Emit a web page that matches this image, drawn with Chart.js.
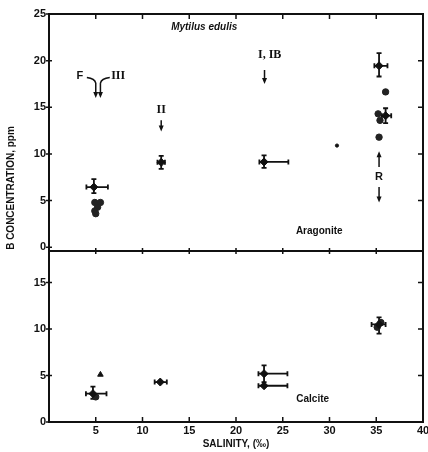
<!DOCTYPE html>
<html>
<head>
<meta charset="utf-8">
<script src="https://cdn.jsdelivr.net/npm/chart.js@4.4.0/dist/chart.umd.min.js"></script>
<style>
  html, body { margin: 0; padding: 0; background: #fff; }
  #wrap { width: 428px; height: 452px; position: relative; }
</style>
</head>
<body>
<div id="wrap"><canvas id="boronChart" width="428" height="452"></canvas></div>
<script>
// tick labels
const salinityTicks = [5, 10, 15, 20, 25, 30, 35, 40];
const aragoniteTicks = [0, 5, 10, 15, 20, 25];
const calciteTicks = [0, 5, 10, 15];

// aragonite - means with error bars
const araMeanX  = [4.8, 12.0, 23.0, 35.3, 36.0];
const araMeanY  = [6.45, 9.1, 9.15, 19.45, 14.1];
const araXLo    = [4.0, 11.6, 22.5, 34.8, 35.6];
const araXHi    = [6.3, 12.4, 25.6, 36.2, 36.6];
const araYLo    = [5.8, 8.4, 8.5, 18.3, 13.3];
const araYHi    = [7.3, 9.8, 9.85, 20.8, 14.9];

// aragonite - single shells
const araShellX = [4.9, 5.5, 5.2, 4.9, 5.0, 36.0, 35.2, 35.4, 35.3];
const araShellY = [4.8, 4.8, 4.3, 3.9, 3.6, 16.65, 14.3, 13.6, 11.8];
const araSmallX = [30.8];
const araSmallY = [10.9];

// calcite - means with error bars
const calMeanX  = [4.7, 11.9, 23.0, 23.0, 35.3];
const calMeanY  = [3.05, 4.3, 5.2, 3.9, 10.5];
const calXLo    = [3.95, 11.3, 22.4, 22.4, 34.5];
const calXHi    = [6.15, 12.6, 25.5, 25.5, 36.0];
const calYLo    = [2.5, 4.3, 4.3, 3.9, 9.5];
const calYHi    = [3.8, 4.3, 6.1, 3.9, 11.25];

// calcite - single shells
const calShellX = [5.0, 35.1, 35.5];
const calShellY = [2.7, 10.2, 10.7];
const calTriX   = [5.5];
const calTriY   = [5.1];

// arrows (aragonite axis): x, from, to
const arrowX    = [5.0, 5.5, 12.0, 23.05, 35.3, 35.3];
const arrowFrom = [17.6, 17.6, 13.6, 19.0, 8.6, 6.45];
const arrowTo   = [16.0, 16.0, 12.4, 17.5, 10.3, 4.8];

// text notes (aragonite axis)
const noteText = ['F', 'III', 'II', 'I, IB', 'R'];
const noteX    = [3.3, 7.4, 12.0, 23.6, 35.3];
const noteY    = [18.35, 18.35, 14.7, 20.6, 7.55];

const pts = (xs, ys) => xs.map((x, i) => ({ x: x, y: ys[i] }));

function drawArrow(ctx, x, y0, y1) {
  const dir = y1 > y0 ? 1 : -1;
  ctx.beginPath();
  ctx.moveTo(x, y0);
  ctx.lineTo(x, y1 - dir * 3);
  ctx.stroke();
  ctx.beginPath();
  ctx.moveTo(x, y1);
  ctx.lineTo(x - 2.5, y1 - dir * 6);
  ctx.lineTo(x + 2.5, y1 - dir * 6);
  ctx.closePath();
  ctx.fill();
}

const decorPlugin = {
  id: 'decor',
  beforeDatasetsDraw(chart) {
    const ctx = chart.ctx;
    const xs = chart.scales.x, ya = chart.scales.yA, yc = chart.scales.yC;
    const ca = chart.chartArea;
    ctx.save();
    ctx.strokeStyle = '#111';
    ctx.fillStyle = '#111';

    // frame and panel divider
    ctx.lineWidth = 2;
    ctx.strokeRect(ca.left, ca.top, ca.right - ca.left, ca.bottom - ca.top);
    ctx.beginPath();
    ctx.moveTo(ca.left, ya.bottom);
    ctx.lineTo(ca.right, ya.bottom);
    ctx.stroke();

    // tick marks
    ctx.lineWidth = 1.5;
    salinityTicks.forEach(v => {
      if (v >= 40) return;
      const px = xs.getPixelForValue(v);
      ctx.beginPath();
      ctx.moveTo(px, ca.top); ctx.lineTo(px, ca.top + 5);
      ctx.moveTo(px, ya.bottom - 3); ctx.lineTo(px, ya.bottom + 3);
      ctx.moveTo(px, ca.bottom); ctx.lineTo(px, ca.bottom - 5);
      ctx.stroke();
    });
    [[ya, aragoniteTicks], [yc, calciteTicks]].forEach(([sc, tk]) => {
      tk.forEach(v => {
        const py = sc.getPixelForValue(v);
        ctx.beginPath();
        ctx.moveTo(ca.left - 3, py); ctx.lineTo(ca.left + 3, py);
        if (v > 0 && v < 25) { ctx.moveTo(ca.right, py); ctx.lineTo(ca.right - 5, py); }
        ctx.stroke();
      });
    });

    // error bars
    ctx.lineWidth = 1.8;
    const bars = (sc, mx, my, xl, xh, yl, yh) => {
      mx.forEach((x, i) => {
        const cx = xs.getPixelForValue(x), cy = sc.getPixelForValue(my[i]);
        const x0 = xs.getPixelForValue(xl[i]), x1 = xs.getPixelForValue(xh[i]);
        const y0 = sc.getPixelForValue(yl[i]), y1 = sc.getPixelForValue(yh[i]);
        ctx.beginPath();
        ctx.moveTo(x0, cy); ctx.lineTo(x1, cy);
        ctx.moveTo(x0, cy - 2.5); ctx.lineTo(x0, cy + 2.5);
        ctx.moveTo(x1, cy - 2.5); ctx.lineTo(x1, cy + 2.5);
        if (y1 - y0 !== 0) {
          ctx.moveTo(cx, y0); ctx.lineTo(cx, y1);
          ctx.moveTo(cx - 2.5, y0); ctx.lineTo(cx + 2.5, y0);
          ctx.moveTo(cx - 2.5, y1); ctx.lineTo(cx + 2.5, y1);
        }
        ctx.stroke();
      });
    };
    bars(ya, araMeanX, araMeanY, araXLo, araXHi, araYLo, araYHi);
    bars(yc, calMeanX, calMeanY, calXLo, calXHi, calYLo, calYHi);

    // arrows
    ctx.lineWidth = 1.5;
    arrowX.forEach((x, i) => {
      drawArrow(ctx, xs.getPixelForValue(x), ya.getPixelForValue(arrowFrom[i]), ya.getPixelForValue(arrowTo[i]));
    });
    // the two leaders joining F and III
    ctx.beginPath();
    ctx.moveTo(xs.getPixelForValue(4.05), ya.getPixelForValue(18.2));
    ctx.quadraticCurveTo(xs.getPixelForValue(4.9), ya.getPixelForValue(18.1), xs.getPixelForValue(5.0), ya.getPixelForValue(17.6));
    ctx.moveTo(xs.getPixelForValue(6.5), ya.getPixelForValue(18.2));
    ctx.quadraticCurveTo(xs.getPixelForValue(5.6), ya.getPixelForValue(18.1), xs.getPixelForValue(5.5), ya.getPixelForValue(17.6));
    ctx.stroke();

    // notes
    ctx.textAlign = 'center';
    ctx.textBaseline = 'middle';
    noteText.forEach((t, i) => {
      ctx.font = (t === 'F' || t === 'R') ? 'bold 11px "Liberation Sans"' : 'bold 12px "Liberation Serif"';
      ctx.fillText(t, xs.getPixelForValue(noteX[i]), ya.getPixelForValue(noteY[i]));
    });
    ctx.font = 'italic bold 10px "Liberation Sans"';
    ctx.fillText('Mytilus edulis', xs.getPixelForValue(16.6), ya.getPixelForValue(23.55));
    ctx.font = 'bold 10px "Liberation Sans"';
    ctx.fillText('Aragonite', xs.getPixelForValue(28.9), ya.getPixelForValue(1.7));
    ctx.fillText('Calcite', xs.getPixelForValue(28.2), yc.getPixelForValue(2.45));

    // shared y title
    ctx.translate(11, 188);
    ctx.rotate(-Math.PI / 2);
    ctx.font = 'bold 10px "Liberation Sans"';
    ctx.fillText('B CONCENTRATION, ppm', 0, 0);
    ctx.restore();
  }
};

const tickFont = { family: 'Liberation Sans', size: 11, weight: 'bold' };

const ctx = document.getElementById('boronChart').getContext('2d');
new Chart(ctx, {
  type: 'scatter',
  data: {
    datasets: [
      { data: pts(araMeanX, araMeanY), yAxisID: 'yA', pointStyle: 'rectRot', pointRadius: 4, backgroundColor: '#111', borderColor: '#111' },
      { data: pts(araShellX, araShellY), yAxisID: 'yA', pointStyle: 'circle', pointRadius: 3.2, backgroundColor: '#222', borderColor: '#222' },
      { data: pts(araSmallX, araSmallY), yAxisID: 'yA', pointStyle: 'circle', pointRadius: 1.6, backgroundColor: '#111', borderColor: '#111' },
      { data: pts(calMeanX, calMeanY), yAxisID: 'yC', pointStyle: 'rectRot', pointRadius: 4, backgroundColor: '#111', borderColor: '#111' },
      { data: pts(calShellX, calShellY), yAxisID: 'yC', pointStyle: 'circle', pointRadius: 3.2, backgroundColor: '#222', borderColor: '#222' },
      { data: pts(calTriX, calTriY), yAxisID: 'yC', pointStyle: 'triangle', pointRadius: 3.2, backgroundColor: '#111', borderColor: '#111' }
    ]
  },
  options: {
    responsive: false,
    animation: false,
    devicePixelRatio: 1,
    layout: { padding: { left: 0, right: 4, top: 14, bottom: 0 } },
    plugins: { legend: { display: false }, tooltip: { enabled: false } },
    scales: {
      x: {
        type: 'linear',
        min: 0, max: 40,
        afterBuildTicks: s => { s.ticks = salinityTicks.map(v => ({ value: v })); },
        afterFit: s => { s.height = 30; s.paddingRight = 0; s.paddingLeft = 0; },
        grid: { display: false, drawTicks: false },
        border: { display: false },
        ticks: { padding: 2, color: '#111', font: tickFont },
        title: { display: true, text: 'SALINITY, (‰)', color: '#111', padding: { top: 0, bottom: 2 }, font: { family: 'Liberation Sans', size: 10, weight: 'bold' } }
      },
      yC: {
        type: 'linear',
        position: 'left',
        stack: 'panels',
        stackWeight: 171,
        min: 0, max: 18.4,
        afterBuildTicks: s => { s.ticks = calciteTicks.map(v => ({ value: v })); },
        afterFit: s => { s.width = 49; },
        grid: { display: false, drawTicks: false },
        border: { display: false },
        ticks: { padding: 3, color: '#111', font: tickFont }
      },
      yA: {
        type: 'linear',
        position: 'left',
        stack: 'panels',
        stackWeight: 237,
        min: -0.4, max: 25,
        afterBuildTicks: s => { s.ticks = aragoniteTicks.map(v => ({ value: v })); },
        afterFit: s => { s.width = 49; },
        grid: { display: false, drawTicks: false },
        border: { display: false },
        ticks: { padding: 3, color: '#111', font: tickFont }
      }
    }
  },
  plugins: [decorPlugin]
});
</script>
</body>
</html>
